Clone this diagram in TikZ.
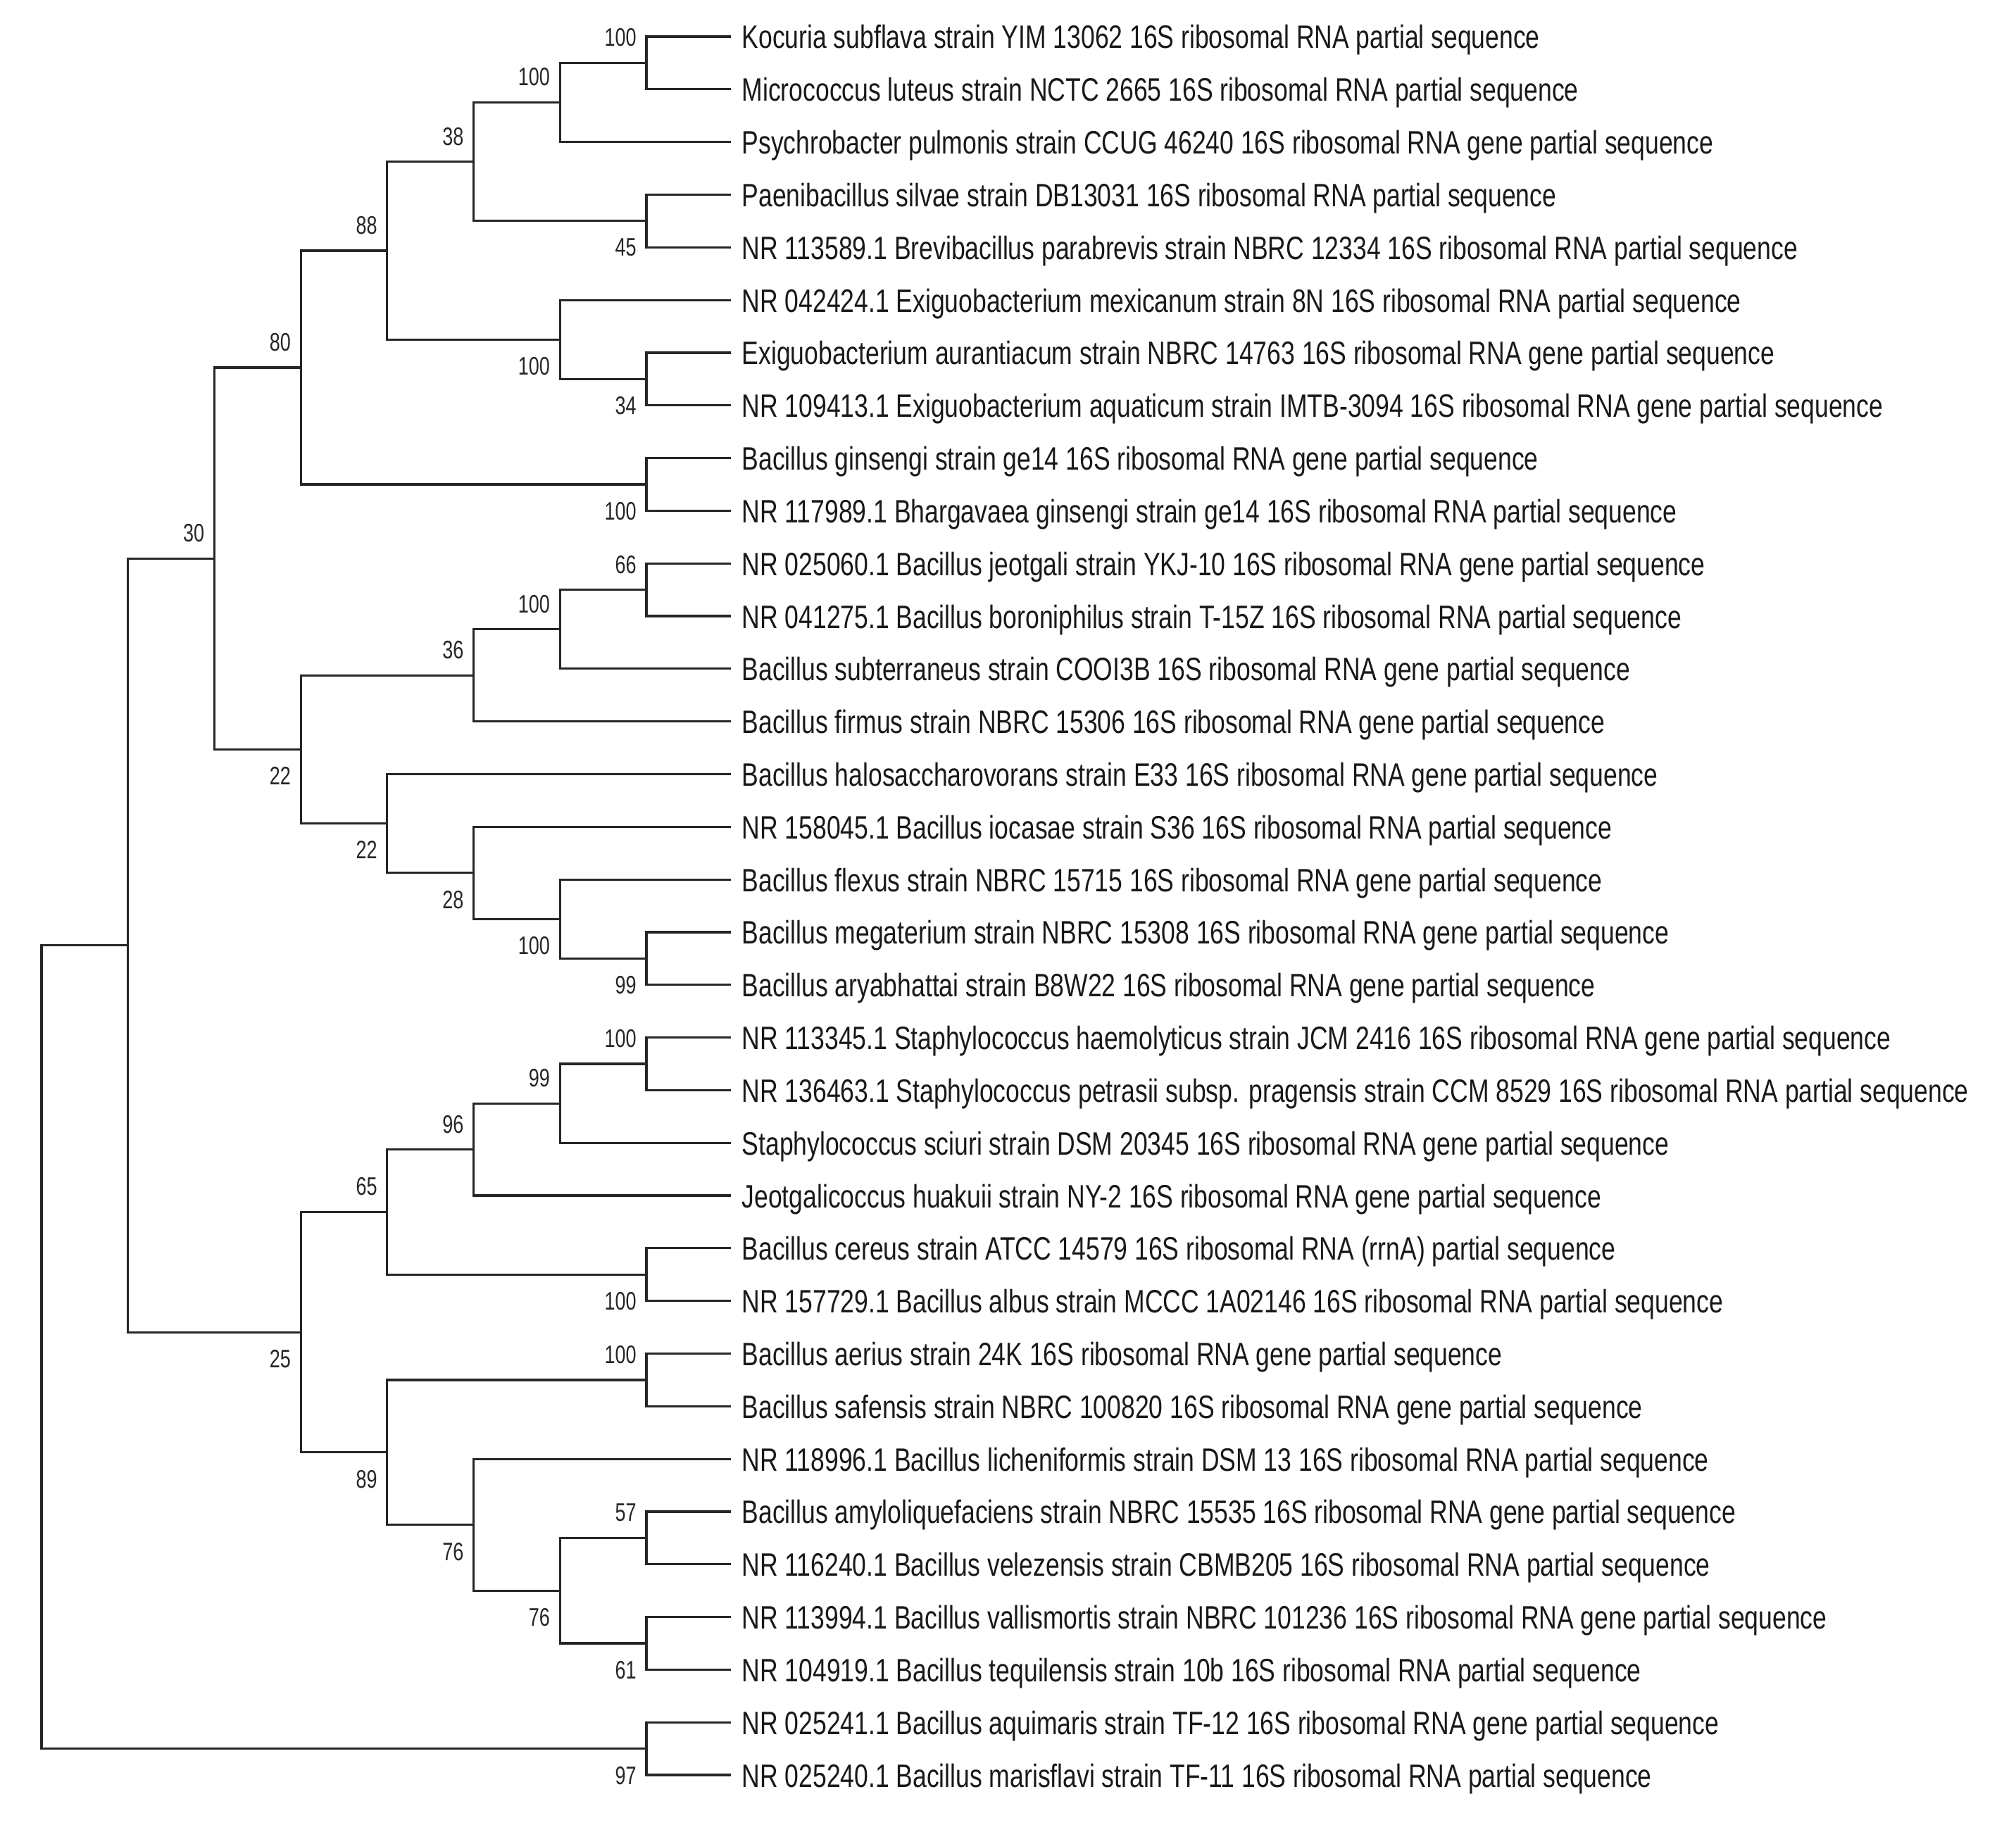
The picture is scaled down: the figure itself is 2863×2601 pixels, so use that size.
\documentclass[tikz,border=0pt]{standalone}
\usepackage{fontspec}
\setmainfont{Liberation Sans}
\newfontfamily\leaffont[FakeStretch=0.772]{Liberation Sans}
\newfontfamily\labfont[FakeStretch=0.75]{Liberation Sans}
\begin{document}
\begin{tikzpicture}[x=1pt,y=-1pt,
  branch/.style={draw=black!85, line width=3.2pt, line join=miter},
  leaftext/.style={anchor=base west, inner sep=0pt, font=\leaffont\fontsize{46pt}{50pt}\selectfont, text=black!90},
  bsabove/.style={anchor=south east, inner sep=0pt, font=\labfont\fontsize{36pt}{40pt}\selectfont, text=black!85},
  bsbelow/.style={anchor=north east, inner sep=0pt, font=\labfont\fontsize{36pt}{40pt}\selectfont, text=black!85}]
\useasboundingbox (0,0) rectangle (2863,2601);
\fill[white] (0,0) rectangle (2863,2601);

% leaves
\foreach \i/\t in {
 1/{Kocuria subflava strain YIM 13062 16S ribosomal RNA partial sequence},
 2/{Micrococcus luteus strain NCTC 2665 16S ribosomal RNA partial sequence},
 3/{Psychrobacter pulmonis strain CCUG 46240 16S ribosomal RNA gene partial sequence},
 4/{Paenibacillus silvae strain DB13031 16S ribosomal RNA partial sequence},
 5/{NR 113589.1 Brevibacillus parabrevis strain NBRC 12334 16S ribosomal RNA partial sequence},
 6/{NR 042424.1 Exiguobacterium mexicanum strain 8N 16S ribosomal RNA partial sequence},
 7/{Exiguobacterium aurantiacum strain NBRC 14763 16S ribosomal RNA gene partial sequence},
 8/{NR 109413.1 Exiguobacterium aquaticum strain IMTB-3094 16S ribosomal RNA gene partial sequence},
 9/{Bacillus ginsengi strain ge14 16S ribosomal RNA gene partial sequence},
 10/{NR 117989.1 Bhargavaea ginsengi strain ge14 16S ribosomal RNA partial sequence},
 11/{NR 025060.1 Bacillus jeotgali strain YKJ-10 16S ribosomal RNA gene partial sequence},
 12/{NR 041275.1 Bacillus boroniphilus strain T-15Z 16S ribosomal RNA partial sequence},
 13/{Bacillus subterraneus strain COOI3B 16S ribosomal RNA gene partial sequence},
 14/{Bacillus firmus strain NBRC 15306 16S ribosomal RNA gene partial sequence},
 15/{Bacillus halosaccharovorans strain E33 16S ribosomal RNA gene partial sequence},
 16/{NR 158045.1 Bacillus iocasae strain S36 16S ribosomal RNA partial sequence},
 17/{Bacillus flexus strain NBRC 15715 16S ribosomal RNA gene partial sequence},
 18/{Bacillus megaterium strain NBRC 15308 16S ribosomal RNA gene partial sequence},
 19/{Bacillus aryabhattai strain B8W22 16S ribosomal RNA gene partial sequence},
 20/{NR 113345.1 Staphylococcus haemolyticus strain JCM 2416 16S ribosomal RNA gene partial sequence},
 21/{NR 136463.1 Staphylococcus petrasii subsp. pragensis strain CCM 8529 16S ribosomal RNA partial sequence},
 22/{Staphylococcus sciuri strain DSM 20345 16S ribosomal RNA gene partial sequence},
 23/{Jeotgalicoccus huakuii strain NY-2 16S ribosomal RNA gene partial sequence},
 24/{Bacillus cereus strain ATCC 14579 16S ribosomal RNA (rrnA) partial sequence},
 25/{NR 157729.1 Bacillus albus strain MCCC 1A02146 16S ribosomal RNA partial sequence},
 26/{Bacillus aerius strain 24K 16S ribosomal RNA gene partial sequence},
 27/{Bacillus safensis strain NBRC 100820 16S ribosomal RNA gene partial sequence},
 28/{NR 118996.1 Bacillus licheniformis strain DSM 13 16S ribosomal RNA partial sequence},
 29/{Bacillus amyloliquefaciens strain NBRC 15535 16S ribosomal RNA gene partial sequence},
 30/{NR 116240.1 Bacillus velezensis strain CBMB205 16S ribosomal RNA partial sequence},
 31/{NR 113994.1 Bacillus vallismortis strain NBRC 101236 16S ribosomal RNA gene partial sequence},
 32/{NR 104919.1 Bacillus tequilensis strain 10b 16S ribosomal RNA partial sequence},
 33/{NR 025241.1 Bacillus aquimaris strain TF-12 16S ribosomal RNA gene partial sequence},
 34/{NR 025240.1 Bacillus marisflavi strain TF-11 16S ribosomal RNA partial sequence}}
{
  \coordinate (l\i) at (1038, {52+(\i-1)*74.82});
  \node[leaftext] (t\i) at ([xshift=15.5pt,yshift=-17pt]l\i) {\t};
}

% internal nodes (x levels: 59,181.7,304.4,427.1,549.8,672.5,795.2,917.9)
\coordinate (nA)  at (917.9, 89.41);
\coordinate (nB)  at (795.2, 145.525);
\coordinate (nD)  at (917.9, 313.87);
\coordinate (nC)  at (672.5, 229.70);
\coordinate (nE)  at (917.9, 538.33);
\coordinate (nF)  at (795.2, 482.215);
\coordinate (nG)  at (549.8, 355.96);
\coordinate (nH)  at (917.9, 687.97);
\coordinate (nI)  at (427.1, 521.965);
\coordinate (nJ)  at (917.9, 837.61);
\coordinate (nK)  at (795.2, 893.725);
\coordinate (nL)  at (672.5, 959.19);
\coordinate (nM)  at (917.9, 1361.35);
\coordinate (nN)  at (795.2, 1305.235);
\coordinate (nO)  at (672.5, 1239.77);
\coordinate (nP)  at (549.8, 1169.625);
\coordinate (nQ)  at (427.1, 1064.41);
\coordinate (nR)  at (304.4, 793.19);
\coordinate (nW)  at (917.9, 1510.99);
\coordinate (nX)  at (795.2, 1567.105);
\coordinate (nY)  at (672.5, 1632.57);
\coordinate (nZ)  at (917.9, 1810.27);
\coordinate (nU)  at (549.8, 1721.42);
\coordinate (nAA) at (917.9, 1959.91);
\coordinate (nAB) at (917.9, 2184.37);
\coordinate (nAC) at (917.9, 2334.01);
\coordinate (nAD) at (795.2, 2259.19);
\coordinate (nAE) at (672.5, 2165.665);
\coordinate (nV)  at (549.8, 2062.79);
\coordinate (nT)  at (427.1, 1892.105);
\coordinate (nS)  at (181.7, 1342.65);
\coordinate (nAF) at (917.9, 2483.65);
\coordinate (nRoot) at (59, 1913.15);

% branches: child1 -| parent |- child2
\foreach \a/\p/\b in {l1/nA/l2, nA/nB/l3, l4/nD/l5, nB/nC/nD, l7/nE/l8, l6/nF/nE,
  nC/nG/nF, l9/nH/l10, nG/nI/nH, l11/nJ/l12, nJ/nK/l13, nK/nL/l14,
  l18/nM/l19, l17/nN/nM, l16/nO/nN, l15/nP/nO, nL/nQ/nP, nI/nR/nQ,
  l20/nW/l21, nW/nX/l22, nX/nY/l23, l24/nZ/l25, nY/nU/nZ,
  l26/nAA/l27, l29/nAB/l30, l31/nAC/l32, nAB/nAD/nAC, l28/nAE/nAD,
  nAA/nV/nAE, nU/nT/nV, nR/nS/nT, l33/nAF/l34, nS/nRoot/nAF}
  \draw[branch] (\a) -| (\p) |- (\b);

% bootstrap values above
\foreach \p/\v in {nA/100, nB/100, nC/38, nG/88, nI/80, nJ/66, nK/100, nL/36,
  nR/30, nW/100, nX/99, nY/96, nU/65, nAA/100, nAB/57}
  \node[bsabove] (b\p) at ([xshift=-14pt,yshift=23pt]\p) {\v};
% bootstrap values below
\foreach \p/\v in {nD/45, nE/34, nF/100, nH/100, nM/99, nN/100, nO/28, nP/22,
  nQ/22, nZ/100, nAC/61, nAD/76, nAE/76, nV/89, nT/25, nAF/97}
  \node[bsbelow] (b\p) at ([xshift=-14pt,yshift=-25pt]\p) {\v};
\end{tikzpicture}
\end{document}
